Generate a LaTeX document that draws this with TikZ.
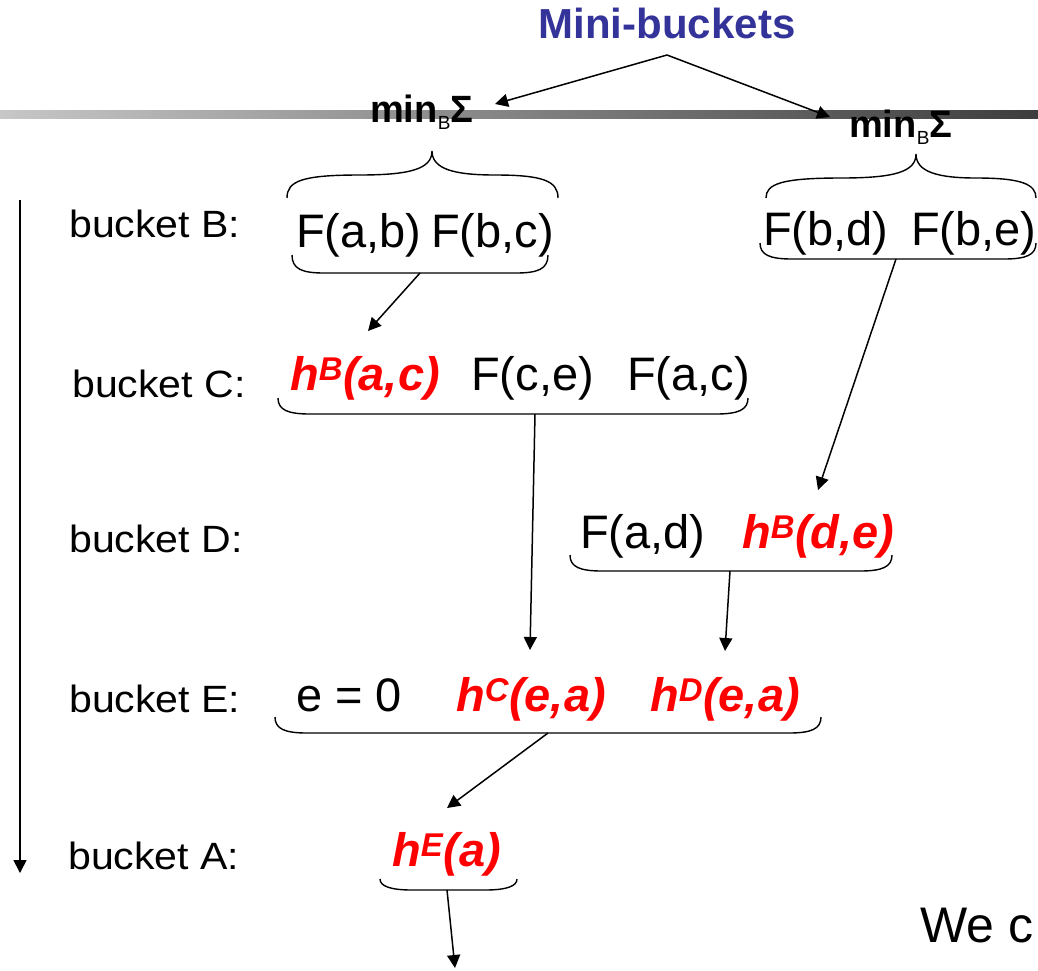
\documentclass[tikz,border=0pt]{standalone}
\usepackage{fontspec}
\setmainfont{Liberation Sans}
\usetikzlibrary{arrows.meta}
\definecolor{hred}{RGB}{255,0,0}
\definecolor{mbblue}{RGB}{51,51,153}

% curly brace opening downwards over a group: left x, right x, tip x, tip y, end y
\newcommand{\overgroup}[5]{%
  \draw[brc] (#1,#5) .. controls (#1,#4+30) and (#1+15,#4+24) .. ({(#1+#3)/2},#4+24)
    .. controls (#3-22,#4+24) and (#3,#4+18) .. (#3,#4)
    .. controls (#3,#4+18) and (#3+22,#4+24) .. ({(#3+#2)/2},#4+24)
    .. controls (#2-15,#4+24) and (#2,#4+30) .. (#2,#5);}
% rounded bracket under a group: left x, right x, end y, bottom y
\newcommand{\undergroup}[4]{%
  \draw[brc] (#1,#3) .. controls (#1,#4-4) and (#1+10,#4) .. (#1+32,#4)
    -- (#2-32,#4) .. controls (#2-10,#4) and (#2,#4-4) .. (#2,#3);}
\newcommand{\hf}[2]{h\textsuperscript{#1}(#2)}
\newcommand{\minsumop}{{\fontsize{38}{44}\selectfont\bfseries min}%
  \raisebox{-7pt}{\fontsize{19}{22}\selectfont B}{\fontsize{38}{44}\selectfont\bfseries Σ}}

\tikzset{
  term/.style={anchor=base west, inner sep=0pt, font=\fontsize{47}{56}\selectfont},
  hterm/.style={anchor=base west, inner sep=0pt, text=hred,
    font=\fontsize{47}{56}\selectfont\bfseries\itshape},
  lbl/.style={anchor=base west, inner sep=0pt, font=\fontsize{38}{44}\selectfont},
  brc/.style={line width=1.4pt},
  flow/.style={line width=1.5pt, -{Triangle[length=13pt,width=13pt]}},
  minsum/.style={anchor=base west, inner sep=0pt},
}

\begin{document}
\begin{tikzpicture}[x=1pt, y=-1pt]
\useasboundingbox (0,0) rectangle (1038,970);

% title bar
\shade[left color=black!22, right color=black!76] (0,110) rectangle (1038,118);

% heading and the two mini-bucket operators
\node[anchor=base, inner sep=0pt, text=mbblue, font=\fontsize{42}{50}\selectfont\bfseries]
  (mb) at (667,38) {Mini-buckets};
\coordinate (mbfork) at (667,55);
\node[minsum] (op1) at (370,122) {\minsumop};
\node[minsum] (op2) at (849,137) {\minsumop};
\coordinate (in1) at (495,104);
\coordinate (in2) at (830,117);
\draw[flow] (mbfork) -- (in1);
\draw[flow] (mbfork) -- (in2);

% bucket labels
\node[lbl] (lB) at (69,237) {\scalebox{1.08}[1]{bucket B:}};
\node[lbl] (lC) at (72,397) {\scalebox{1.08}[1]{bucket C:}};
\node[lbl] (lD) at (69,552) {\scalebox{1.08}[1]{bucket D:}};
\node[lbl] (lE) at (69,712) {\scalebox{1.08}[1]{bucket E:}};
\node[lbl] (lA) at (68,869) {\scalebox{1.08}[1]{bucket A:}};

% order of processing
\coordinate (ordtop) at (20,200);
\coordinate (ordbot) at (20,873);
\draw[flow] (ordtop) -- (ordbot);

% bucket B, two mini-buckets
\node[term] (fab) at (296,247) {F(a,b)};
\node[term] (fbc) at (431,247) {F(b,c)};
\node[term] (fbd) at (763,245) {F(b,d)};
\node[term] (fbe) at (911,245) {F(b,e)};
\overgroup{287}{558}{432}{151}{198}
\overgroup{766}{1036}{916}{154}{198}
\undergroup{292}{548}{255}{273}
\undergroup{760}{1036}{243}{259}

% bucket C
\node[hterm] (hbac) at (290,390) {\hf{B}{a,c}};
\node[term] (fce) at (471,390) {F(c,e)};
\node[term] (fac) at (627,390) {F(a,c)};
\undergroup{278}{748}{398}{414}

% bucket D
\node[term] (fad) at (580,548) {F(a,d)};
\node[hterm] (hbde) at (742,548) {\hf{B}{d,e}};
\undergroup{570}{892}{555}{571}

% bucket E
\node[term] (e0) at (296,711) {e = 0};
\node[hterm] (hcea) at (456,711) {\hf{C}{e,a}};
\node[hterm] (hdea) at (650,711) {\hf{D}{e,a}};
\undergroup{275}{821}{717}{733}

% bucket A
\node[hterm] (hea) at (392,866) {\hf{E}{a}};
\undergroup{380}{517}{879}{890}

% messages passed between buckets
\coordinate (oB1) at (420,273);
\coordinate (iC) at (368,331);
\coordinate (oB2) at (896,259);
\coordinate (iD) at (818,490);
\coordinate (oC) at (535,414);
\coordinate (iE1) at (530,650);
\coordinate (oD) at (730,571);
\coordinate (iE2) at (725,651);
\coordinate (oE) at (548,733);
\coordinate (iA) at (447,808);
\coordinate (oA) at (447,890);
\coordinate (res) at (455,968);
\draw[flow] (oB1) -- (iC);
\draw[flow] (oB2) -- (iD);
\draw[flow] (oC) -- (iE1);
\draw[flow] (oD) -- (iE2);
\draw[flow] (oE) -- (iA);
\draw[flow] (oA) -- (res);

% continuation text
\node[term, font=\fontsize{50}{60}\selectfont] (cont) at (920,942) {We c};
\end{tikzpicture}
\end{document}
